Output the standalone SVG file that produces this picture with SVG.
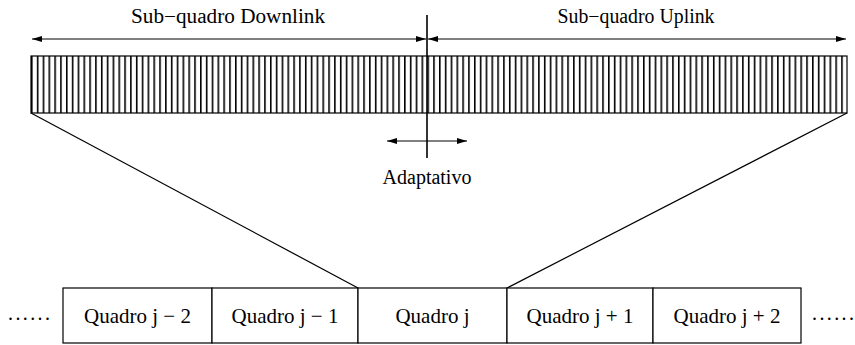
<svg xmlns="http://www.w3.org/2000/svg" width="855" height="345" viewBox="0 0 855 345">
  <defs>
    <marker id="ah" viewBox="0 0 10 6" refX="10" refY="3" markerWidth="10" markerHeight="6" markerUnits="userSpaceOnUse" orient="auto-start-reverse">
      <path d="M0,0 L10,3 L0,6 Z" fill="#000"/>
    </marker>
    <pattern id="stripes" x="31" y="0" width="5.8286" height="10" patternUnits="userSpaceOnUse">
      <line x1="0.8" y1="0" x2="0.8" y2="10" stroke="#000" stroke-width="1.6"/>
    </pattern>
  </defs>
  <style>
    text { font-family: "Liberation Serif", "Times New Roman", serif; font-size: 20px; fill: #000; }
    .q { font-size: 21px; }
    .ln { stroke: #000; stroke-width: 1.2; fill: none; }
    .box { fill: #fff; stroke: #000; stroke-width: 1.2; }
    .arr { stroke: #000; stroke-width: 1; fill: none; marker-start: url(#ah); marker-end: url(#ah); }
    .mid { text-anchor: middle; }
  </style>
  <rect width="855" height="345" fill="#fff"/>

  <!-- frame strip made of slots -->
  <g id="strip">
    <rect x="31" y="56" width="816" height="57" fill="url(#stripes)"/>
    <rect x="31" y="56" width="816" height="57" class="ln"/>
  </g>

  <!-- sub-frame spans -->
  <g id="downlink">
    <text x="228" y="23" class="mid" textLength="194" lengthAdjust="spacingAndGlyphs">Sub−quadro Downlink</text>
  </g>
  <g id="uplink">
    <text x="636" y="23" class="mid" textLength="157" lengthAdjust="spacingAndGlyphs">Sub−quadro Uplink</text>
  </g>
  <g id="adaptive">
    <text x="427" y="184" class="mid">Adaptativo</text>
  </g>

  <g id="connectors">
    <line x1="32" y1="39" x2="426" y2="39" class="arr"/>
    <line x1="428" y1="39" x2="846" y2="39" class="arr"/>
    <line x1="427" y1="15" x2="427" y2="158" stroke="#000" stroke-width="1.6"/>
    <line x1="387" y1="141" x2="467" y2="141" class="arr"/>
    <line x1="31" y1="113" x2="358" y2="288" class="ln"/>
    <line x1="847" y1="113" x2="507" y2="288" class="ln"/>
  </g>

  <!-- sequence of frames -->
  <g id="frame-jm2">
    <rect x="63" y="288" width="149" height="55" class="box"/>
    <text x="137.5" y="323" class="mid q">Quadro j − 2</text>
  </g>
  <g id="frame-jm1">
    <rect x="212" y="288" width="146" height="55" class="box"/>
    <text x="285" y="323" class="mid q">Quadro j − 1</text>
  </g>
  <g id="frame-j">
    <rect x="358" y="288" width="149" height="55" class="box"/>
    <text x="432.5" y="323" class="mid q">Quadro j</text>
  </g>
  <g id="frame-jp1">
    <rect x="507" y="288" width="146" height="55" class="box"/>
    <text x="580" y="323" class="mid q">Quadro j + 1</text>
  </g>
  <g id="frame-jp2">
    <rect x="653" y="288" width="148" height="55" class="box"/>
    <text x="727" y="323" class="mid q">Quadro j + 2</text>
  </g>
  <g id="dots-left">
    <text x="8" y="320" letter-spacing="2.4">......</text>
  </g>
  <g id="dots-right">
    <text x="812" y="320" letter-spacing="2.4">......</text>
  </g>
</svg>
